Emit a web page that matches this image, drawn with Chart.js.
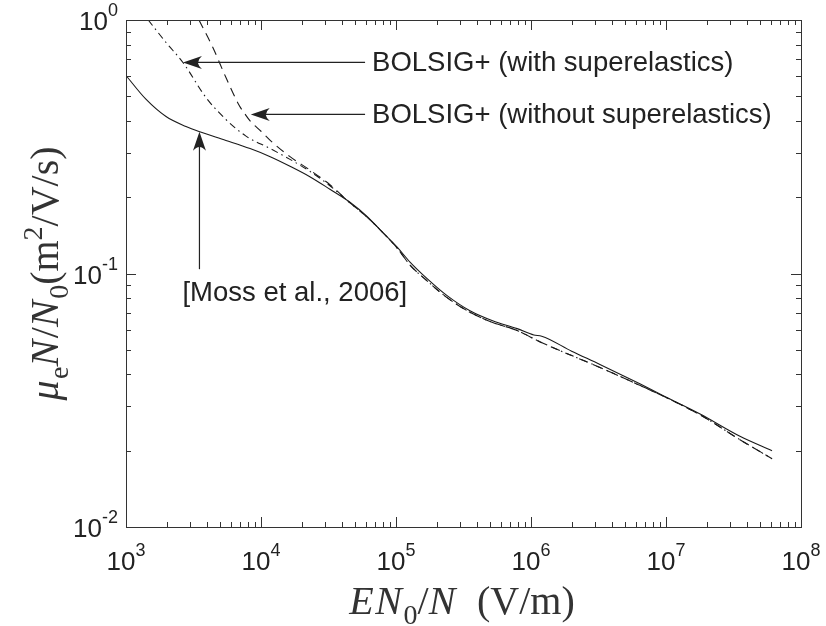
<!DOCTYPE html>
<html>
<head>
<meta charset="utf-8">
<script src="https://cdn.jsdelivr.net/npm/chart.js@4"></script>
<style>
html, body { margin: 0; padding: 0; background: #fff; }
</style>
</head>
<body>
<canvas id="mobilityChart" width="826" height="626"></canvas>
<script>
// reduced field E*N0/N (V/m) and reduced mobility mu_e*N/N0 (m^2/V/s)
var mossField = [1e3, 1.41e3, 1.98e3, 2.78e3, 3.47e3, 5.5e3, 8.3e3, 1.17e4, 1.64e4, 2.3e4, 3.24e4, 4.56e4, 6.1e4, 7.6e4, 1.02e5, 1.27e5, 1.7e5, 2.39e5, 3.53e5, 5.2e5, 7.9e5, 1.05e6, 1.2e6, 2e6, 3.24e6, 6.4e6, 9.7e6, 1.79e7, 3.53e7, 6.1e7];
var mossMob = [0.604, 0.486, 0.416, 0.380, 0.363, 0.335, 0.311, 0.289, 0.265, 0.241, 0.215, 0.191, 0.168, 0.149, 0.127, 0.111, 0.0955, 0.0818, 0.0713, 0.0651, 0.0606, 0.0572, 0.0566, 0.0494, 0.0438, 0.0367, 0.0328, 0.0279, 0.0228, 0.0200];

var withSupField = [1.46e3, 1.98e3, 2.64e3, 3.92e3, 5.5e3, 7.7e3, 1.17e4, 1.64e4, 2.3e4, 3.24e4, 4.56e4, 6.1e4, 7.6e4, 1.02e5, 1.27e5, 1.7e5, 2.39e5, 3.53e5, 5.2e5, 7.9e5, 1.17e6, 3.24e6, 6.4e6, 9.7e6, 1.79e7, 3.53e7, 6.1e7];
var withSupMob = [1.0, 0.815, 0.68, 0.494, 0.405, 0.349, 0.311, 0.282, 0.253, 0.222, 0.190, 0.167, 0.149, 0.126, 0.108, 0.0935, 0.0803, 0.0703, 0.0641, 0.0596, 0.0537, 0.0426, 0.0362, 0.0327, 0.0277, 0.0221, 0.0186];

var noSupField = [3.47e3, 4.4e3, 5.5e3, 6.9e3, 7.6e3, 8.3e3, 1.0e4, 1.17e4, 1.64e4, 2.3e4, 3.24e4, 4.56e4, 6.1e4, 7.6e4, 1.02e5, 1.27e5, 1.7e5, 2.39e5, 3.53e5, 5.2e5, 7.9e5, 1.17e6, 3.24e6, 6.4e6, 9.7e6, 1.79e7, 3.53e7, 6.1e7];
var noSupMob = [1.0, 0.779, 0.593, 0.46, 0.426, 0.40, 0.364, 0.335, 0.289, 0.256, 0.224, 0.190, 0.167, 0.149, 0.126, 0.108, 0.0935, 0.0803, 0.0703, 0.0641, 0.0596, 0.0537, 0.0426, 0.0362, 0.0327, 0.0277, 0.0221, 0.0186];

// decade exponents used for tick labels
var xTickExps = [3, 4, 5, 6, 7, 8];
var yTickExps = [-2, -1, 0];

// arrows: text, tail point, head point (data coords)
var notes = [
  { text: 'BOLSIG+ (with superelastics)', from: [5.9e4, 0.68], to: [2.64e3, 0.68] },
  { text: 'BOLSIG+ (without superelastics)', from: [5.9e4, 0.424], to: [8.4e3, 0.424] },
  { text: '[Moss et al., 2006]', from: [3.5e3, 0.104], to: [3.5e3, 0.362] }
];

function pts(xs, ys) {
  return xs.map(function(x, i) { return { x: x, y: ys[i] }; });
}

var sansFont = '"Liberation Sans", Arial, Helvetica, sans-serif';
var serifFont = '"Liberation Serif", "Times New Roman", serif';

function fontFor(kind, size) {
  if (kind === 'i') return 'italic ' + size + 'px ' + serifFont;
  if (kind === 'sub' || kind === 'sup') return Math.round(size * 0.7) + 'px ' + serifFont;
  return size + 'px ' + serifFont;
}
function drawRuns(ctx, runs, size) {
  // runs: [text, kind]; kind: 'i' italic, 'r' roman, 'sub', 'sup'
  var w = 0;
  runs.forEach(function(r) {
    ctx.font = fontFor(r[1], size);
    r.w = ctx.measureText(r[0]).width + (r[1] === 'i' ? size * 0.04 : 0);
    w += r.w;
  });
  var x = -w / 2;
  runs.forEach(function(r) {
    ctx.font = fontFor(r[1], size);
    var dy = r[1] === 'sub' ? size * 0.25 : (r[1] === 'sup' ? -size * 0.4 : 0);
    ctx.fillText(r[0], x, dy);
    x += r.w;
  });
}

function arrowHead(ctx, x1, y1, x2, y2) {
  var ang = Math.atan2(y2 - y1, x2 - x1);
  var len = 19, half = 6.5;
  ctx.save();
  ctx.translate(x2, y2);
  ctx.rotate(ang);
  ctx.beginPath();
  ctx.moveTo(0, 0);
  ctx.lineTo(-len, -half);
  ctx.quadraticCurveTo(-len * 0.6, 0, -len, half);
  ctx.closePath();
  ctx.fill();
  ctx.restore();
}

var decorations = {
  id: 'decorations',
  afterDraw: function(chart) {
    var ctx = chart.ctx, a = chart.chartArea;
    var xs = chart.scales.x, ys = chart.scales.y;
    ctx.save();
    ctx.strokeStyle = '#333';
    ctx.fillStyle = '#222';
    ctx.lineWidth = 1;
    ctx.strokeRect(Math.round(a.left) + 0.5, Math.round(a.top) + 0.5, Math.round(a.right - a.left), Math.round(a.bottom - a.top));

    function seg(x1, y1, x2, y2) {
      ctx.beginPath(); ctx.moveTo(x1, y1); ctx.lineTo(x2, y2); ctx.stroke();
    }
    var d, m, p, len;
    for (d = xTickExps[0]; d < xTickExps[xTickExps.length - 1]; d++) {
      for (m = 1; m < 10; m++) {
        p = Math.round(xs.getPixelForValue(m * Math.pow(10, d))) + 0.5;
        len = m === 1 ? 10 : 5;
        seg(p, a.bottom, p, a.bottom - len);
        seg(p, a.top, p, a.top + len);
      }
    }
    for (d = yTickExps[0]; d < yTickExps[yTickExps.length - 1]; d++) {
      for (m = 1; m < 10; m++) {
        p = Math.round(ys.getPixelForValue(m * Math.pow(10, d))) + 0.5;
        len = m === 1 ? 10 : 5;
        seg(a.left, p, a.left + len, p);
        seg(a.right, p, a.right - len, p);
      }
    }

    // tick labels
    var big = 26, small = 18;
    ctx.fillStyle = '#222';
    ctx.textBaseline = 'alphabetic';
    ctx.textAlign = 'left';
    xTickExps.forEach(function(e) {
      var px = xs.getPixelForValue(Math.pow(10, e));
      ctx.font = big + 'px ' + sansFont;
      var w1 = ctx.measureText('10').width;
      ctx.font = small + 'px ' + sansFont;
      var w2 = ctx.measureText(String(e)).width;
      var x0 = px - (w1 + w2) / 2;
      ctx.font = big + 'px ' + sansFont;
      ctx.fillText('10', x0, a.bottom + 43);
      ctx.font = small + 'px ' + sansFont;
      ctx.fillText(String(e), x0 + w1, a.bottom + 29);
    });
    yTickExps.forEach(function(e) {
      var py = ys.getPixelForValue(Math.pow(10, e));
      ctx.font = small + 'px ' + sansFont;
      var w2 = ctx.measureText(String(e)).width;
      ctx.font = big + 'px ' + sansFont;
      var w1 = ctx.measureText('10').width;
      var x0 = a.left - 8 - w1 - w2;
      ctx.fillText('10', x0, py + 10);
      ctx.font = small + 'px ' + sansFont;
      ctx.fillText(String(e), x0 + w1, py - 4);
    });

    // axis titles
    ctx.fillStyle = '#333';
    ctx.save();
    ctx.translate(462, 614);
    drawRuns(ctx, [['E', 'i'], ['N', 'i'], ['0', 'sub'], ['/', 'r'], ['N', 'i'], ['  (V/m)', 'r']], 40);
    ctx.restore();
    ctx.save();
    ctx.translate(58, (a.top + a.bottom) / 2);
    ctx.rotate(-Math.PI / 2);
    drawRuns(ctx, [['\u03bc', 'i'], ['e', 'sub'], ['N', 'i'], ['/', 'r'], ['N', 'i'], ['0', 'sub'], ['(m', 'r'], ['2', 'sup'], ['/V/s)', 'r']], 40);
    ctx.restore();

    // arrows and notes
    ctx.fillStyle = '#222';
    ctx.lineWidth = 1.2;
    ctx.strokeStyle = '#222';
    ctx.font = '27.5px ' + sansFont;
    notes.forEach(function(n, i) {
      var x1 = xs.getPixelForValue(n.from[0]), y1 = ys.getPixelForValue(n.from[1]);
      var x2 = xs.getPixelForValue(n.to[0]), y2 = ys.getPixelForValue(n.to[1]);
      seg(x1, y1, x2 + (x2 < x1 ? 14 : 0), y2 + (y2 < y1 ? 14 : 0));
      arrowHead(ctx, x1, y1, x2, y2);
      ctx.textAlign = 'left';
      if (i < 2) {
        ctx.textBaseline = 'middle';
        ctx.fillText(n.text, x1 + 7, y1 + 1);
      } else {
        ctx.textBaseline = 'top';
        ctx.fillText(n.text, x1 - 17, y1 + 10);
      }
    });
    ctx.restore();
  }
};

var ctx = document.getElementById('mobilityChart').getContext('2d');
var lineColor = '#1a1a1a';
var chart = new Chart(ctx, {
  type: 'scatter',
  data: {
    datasets: [
      {
        label: '[Moss et al., 2006]',
        data: pts(mossField, mossMob),
        showLine: true,
        borderColor: lineColor,
        borderWidth: 1.1,
        pointRadius: 0,
        cubicInterpolationMode: 'monotone'
      },
      {
        label: 'BOLSIG+ (with superelastics)',
        data: pts(withSupField, withSupMob),
        showLine: true,
        borderColor: lineColor,
        borderWidth: 1.1,
        borderDash: [7, 4, 1.5, 4],
        pointRadius: 0,
        cubicInterpolationMode: 'monotone'
      },
      {
        label: 'BOLSIG+ (without superelastics)',
        data: pts(noSupField, noSupMob),
        showLine: true,
        borderColor: lineColor,
        borderWidth: 1.1,
        borderDash: [9, 6],
        pointRadius: 0,
        cubicInterpolationMode: 'monotone'
      }
    ]
  },
  options: {
    responsive: false,
    animation: false,
    clip: true,
    layout: { padding: { left: 126, top: 20, right: 25, bottom: 99 } },
    plugins: { legend: { display: false }, tooltip: { enabled: false } },
    scales: {
      x: { type: 'logarithmic', min: 1e3, max: 1e8, display: false },
      y: { type: 'logarithmic', min: 1e-2, max: 1, display: false }
    }
  },
  plugins: [decorations]
});
</script>
</body>
</html>
